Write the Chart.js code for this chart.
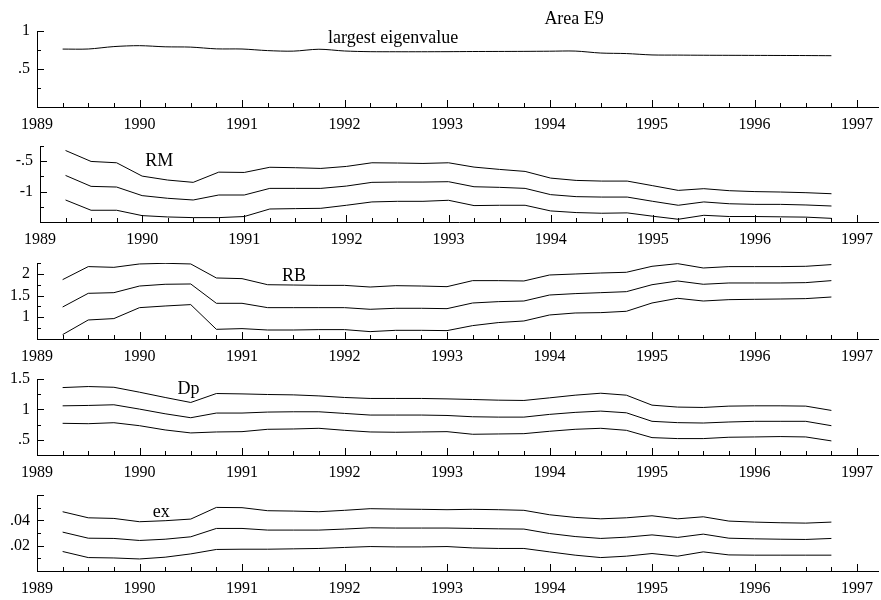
<!DOCTYPE html>
<html>
<head>
<meta charset="utf-8">
<title>Area E9</title>
<script src="https://cdn.jsdelivr.net/npm/chart.js@4.4.1/dist/chart.umd.min.js"></script>
<style>
    html, body {
        margin: 0;
        padding: 0;
        background: #ffffff;
    }

    #board {
        position: relative;
        width: 881px;
        height: 600px;
        overflow: hidden;
    }

    #board canvas {
        position: absolute;
        left: 0;
    }
</style>
</head>
<body>

<div id="board">
    <canvas id="eigenChart" width="881" height="142" style="top:1px"></canvas>
    <canvas id="rmChart" width="881" height="142" style="top:116px"></canvas>
    <canvas id="rbChart" width="881" height="142" style="top:233px"></canvas>
    <canvas id="dpChart" width="881" height="142" style="top:349px"></canvas>
    <canvas id="exChart" width="881" height="142" style="top:465px"></canvas>
</div>

<script>

/*
============================================================
Quarterly dates and year ticks
============================================================
*/

const quarters = [
    1989.25, 1989.5, 1989.75,
    1990, 1990.25, 1990.5, 1990.75,
    1991, 1991.25, 1991.5, 1991.75,
    1992, 1992.25, 1992.5, 1992.75,
    1993, 1993.25, 1993.5, 1993.75,
    1994, 1994.25, 1994.5, 1994.75,
    1995, 1995.25, 1995.5, 1995.75,
    1996, 1996.25, 1996.5, 1996.75
];

const yearTicks = [1989, 1990, 1991, 1992, 1993, 1994, 1995, 1996, 1997];

const quarterTicks = quarters.filter(q => !Number.isInteger(q));

/*
============================================================
Largest eigenvalue
============================================================
*/

const eigenvalue = [
    0.762, 0.763, 0.795,
    0.807, 0.792, 0.788, 0.765,
    0.763, 0.742, 0.735, 0.760,
    0.737, 0.728, 0.727, 0.727,
    0.728, 0.730, 0.731, 0.732,
    0.734, 0.736, 0.710, 0.703,
    0.685, 0.683, 0.681, 0.680,
    0.679, 0.678, 0.677, 0.675
];

/*
============================================================
RM  (upper / estimate / lower)
============================================================
*/

const rmUpper = [
    -0.324, -0.504, -0.526,
    -0.745, -0.810, -0.848, -0.680,
    -0.685, -0.600, -0.607, -0.619,
    -0.586, -0.526, -0.530, -0.537,
    -0.526, -0.597, -0.635, -0.668,
    -0.778, -0.816, -0.827, -0.827,
    -0.903, -0.980, -0.952, -0.985,
    -1.000, -1.007, -1.018, -1.035
];

const rmMid = [
    -0.734, -0.914, -0.925,
    -1.066, -1.110, -1.138, -1.056,
    -1.056, -0.947, -0.947, -0.947,
    -0.909, -0.848, -0.843, -0.843,
    -0.837, -0.920, -0.930, -0.947,
    -1.050, -1.083, -1.090, -1.090,
    -1.160, -1.225, -1.170, -1.200,
    -1.210, -1.210, -1.220, -1.237
];

const rmLower = [
    -1.138, -1.307, -1.307,
    -1.395, -1.417, -1.428, -1.428,
    -1.410, -1.286, -1.280, -1.275,
    -1.225, -1.170, -1.160, -1.160,
    -1.143, -1.230, -1.225, -1.225,
    -1.318, -1.345, -1.356, -1.350,
    -1.405, -1.455, -1.390, -1.410,
    -1.410, -1.415, -1.420, -1.440
];

/*
============================================================
RB
============================================================
*/

const rbUpper = [
    1.867, 2.167, 2.150,
    2.228, 2.243, 2.228, 1.905,
    1.890, 1.750, 1.743, 1.735,
    1.735, 1.697, 1.728, 1.720,
    1.705, 1.844, 1.844, 1.836,
    1.974, 1.997, 2.020, 2.036,
    2.174, 2.235, 2.135, 2.167,
    2.167, 2.167, 2.174, 2.213
];

const rbMid = [
    1.237, 1.552, 1.567,
    1.720, 1.760, 1.767, 1.322,
    1.322, 1.222, 1.222, 1.222,
    1.222, 1.184, 1.207, 1.207,
    1.199, 1.329, 1.360, 1.375,
    1.513, 1.545, 1.567, 1.590,
    1.750, 1.836, 1.760, 1.790,
    1.790, 1.790, 1.798, 1.844
];

const rbLower = [
    0.601, 0.938, 0.970,
    1.222, 1.260, 1.292, 0.723,
    0.739, 0.707, 0.707, 0.716,
    0.716, 0.670, 0.700, 0.700,
    0.693, 0.808, 0.878, 0.915,
    1.053, 1.099, 1.107, 1.138,
    1.329, 1.437, 1.375, 1.406,
    1.414, 1.421, 1.430, 1.467
];

/*
============================================================
Dp
============================================================
*/

const dpUpper = [
    1.359, 1.376, 1.364,
    1.283, 1.196, 1.114, 1.261,
    1.255, 1.245, 1.239, 1.222,
    1.196, 1.180, 1.180, 1.180,
    1.173, 1.163, 1.152, 1.147,
    1.190, 1.234, 1.266, 1.234,
    1.070, 1.038, 1.032, 1.054,
    1.059, 1.059, 1.054, 0.983
];

const dpMid = [
    1.059, 1.065, 1.076,
    1.005, 0.928, 0.863, 0.940,
    0.940, 0.956, 0.961, 0.961,
    0.934, 0.907, 0.907, 0.907,
    0.900, 0.879, 0.873, 0.873,
    0.918, 0.951, 0.972, 0.944,
    0.804, 0.782, 0.776, 0.793,
    0.804, 0.804, 0.804, 0.732
];

const dpLower = [
    0.771, 0.765, 0.781,
    0.732, 0.662, 0.613, 0.629,
    0.634, 0.673, 0.678, 0.689,
    0.656, 0.629, 0.624, 0.629,
    0.634, 0.591, 0.596, 0.601,
    0.640, 0.673, 0.689, 0.656,
    0.536, 0.520, 0.520, 0.542,
    0.547, 0.553, 0.547, 0.482
];

/*
============================================================
ex
============================================================
*/

const exUpper = [
    0.0468, 0.0420, 0.0415,
    0.0389, 0.0397, 0.0410, 0.0502,
    0.0500, 0.0476, 0.0473, 0.0468,
    0.0479, 0.0492, 0.0489, 0.0487,
    0.0484, 0.0487, 0.0484, 0.0479,
    0.0444, 0.0423, 0.0412, 0.0420,
    0.0436, 0.0412, 0.0428, 0.0394,
    0.0386, 0.0381, 0.0378, 0.0386
];

const exMid = [
    0.0307, 0.0259, 0.0257,
    0.0241, 0.0251, 0.0270, 0.0336,
    0.0336, 0.0323, 0.0323, 0.0323,
    0.0331, 0.0341, 0.0339, 0.0339,
    0.0339, 0.0336, 0.0333, 0.0331,
    0.0296, 0.0272, 0.0257, 0.0267,
    0.0285, 0.0265, 0.0291, 0.0259,
    0.0254, 0.0251, 0.0249, 0.0257
];

const exLower = [
    0.0154, 0.0106, 0.0103,
    0.0095, 0.0109, 0.0135, 0.0170,
    0.0172, 0.0172, 0.0175, 0.0178,
    0.0186, 0.0193, 0.0190, 0.0190,
    0.0193, 0.0182, 0.0178, 0.0178,
    0.0151, 0.0125, 0.0106, 0.0117,
    0.0138, 0.0117, 0.0151, 0.0127,
    0.0125, 0.0125, 0.0125, 0.0125
];

/*
============================================================
Y tick values and their labels, per panel
============================================================
*/

const eigenTicks = [0.5, 1];
const eigenTickLabels = [".5", "1"];
const eigenMinor = [0.25, 0.75];

const rmTicks = [-1, -0.5];
const rmTickLabels = ["-1", "-.5"];
const rmMinor = [-1.25, -0.75, -0.25];

const rbTicks = [1, 1.5, 2];
const rbTickLabels = ["1", "1.5", "2"];
const rbMinor = [0.75, 1.25, 1.75, 2.25];

const dpTicks = [0.5, 1, 1.5];
const dpTickLabels = [".5", "1", "1.5"];
const dpMinor = [0.75, 1.25];

const exTicks = [0.02, 0.04, 0.06];
const exTickLabels = [".02", ".04", ""];
const exMinor = [0.01, 0.03, 0.05];

/*
============================================================
Shared styling
============================================================
*/

const SERIF = '"Liberation Serif", "Times New Roman", serif';

const X_MIN = 1989;
const X_MAX = 1997.21;

/*
------------------------------------------------------------
Inward tick marks and text notes, drawn on top of each panel
------------------------------------------------------------
*/

const axisMarks = {

    id: "axisMarks",

    afterDraw(chart, args, opts) {

        const ctx = chart.ctx;
        const area = chart.chartArea;
        const xs = chart.scales.x;
        const ys = chart.scales.y;

        ctx.save();
        ctx.strokeStyle = "#000";
        ctx.lineWidth = 1;
        ctx.beginPath();

        const tickX = (value, len) => {
            const px = Math.round(xs.getPixelForValue(value)) + 0.5;
            ctx.moveTo(px, area.bottom);
            ctx.lineTo(px, area.bottom - len);
        };

        const tickY = (value, len) => {
            const py = Math.round(ys.getPixelForValue(value)) + 0.5;
            ctx.moveTo(area.left, py);
            ctx.lineTo(area.left + len, py);
        };

        yearTicks.forEach(v => tickX(v, 7));
        quarterTicks.forEach(v => tickX(v, 4));

        opts.major.forEach(v => tickY(v, 7));
        opts.minor.forEach(v => tickY(v, 4));

        ctx.stroke();

        ctx.fillStyle = "#000";
        ctx.font = "18px " + SERIF;
        ctx.textAlign = "left";
        ctx.textBaseline = "alphabetic";

        opts.notes.forEach(note => {
            ctx.fillText(
                note.text,
                xs.getPixelForValue(note.x),
                ys.getPixelForValue(note.y)
            );
        });

        ctx.restore();

    }

};

/*
------------------------------------------------------------
One stacked panel
------------------------------------------------------------
*/

function createPanel(canvasId, panel) {

    const canvas = document.getElementById(canvasId);

    if (!canvas) {
        return null;
    }

    const datasets = panel.series.map(values => ({
        data: quarters.map((q, i) => ({ x: q, y: values[i] })),
        borderColor: "#000",
        borderWidth: 1,
        pointRadius: 0,
        tension: panel.tension || 0,
        fill: false
    }));

    return new Chart(canvas, {

        type: "line",

        data: { datasets },

        options: {

            responsive: false,
            animation: false,

            layout: {
                padding: { top: 30, left: 0, right: 0, bottom: 0 }
            },

            scales: {

                x: {
                    type: "linear",
                    min: X_MIN,
                    max: X_MAX,
                    grid: { display: false, drawTicks: false },
                    border: { display: true, color: "#000", width: 1 },
                    afterBuildTicks: scale => {
                        scale.ticks = yearTicks.map(v => ({ value: v }));
                    },
                    afterFit: scale => {
                        scale.height = 36;
                    },
                    ticks: {
                        autoSkip: false,
                        maxRotation: 0,
                        padding: 8,
                        color: "#000",
                        font: { family: SERIF, size: 16 },
                        callback: value => String(value)
                    }
                },

                y: {
                    type: "linear",
                    min: panel.min,
                    max: panel.max,
                    grid: { display: false, drawTicks: false },
                    border: { display: true, color: "#000", width: 1 },
                    afterBuildTicks: scale => {
                        scale.ticks = panel.ticks.map(v => ({ value: v }));
                    },
                    afterFit: scale => {
                        scale.width = panel.left;
                    },
                    ticks: {
                        padding: 7,
                        color: "#000",
                        font: { family: SERIF, size: 16 },
                        callback: (value, index) => panel.tickLabels[index]
                    }
                }

            },

            plugins: {
                legend: { display: false },
                tooltip: { enabled: false },
                axisMarks: {
                    major: panel.ticks,
                    minor: panel.minor,
                    notes: panel.notes
                }
            }

        },

        plugins: [axisMarks]

    });

}

/*
============================================================
Build the five panels
============================================================
*/

createPanel("eigenChart", {
    series: [eigenvalue],
    tension: 0.3,
    min: 0,
    max: 1,
    left: 37,
    ticks: eigenTicks,
    tickLabels: eigenTickLabels,
    minor: eigenMinor,
    notes: [
        { text: "largest eigenvalue", x: 1991.84, y: 0.843 },
        { text: "Area E9", x: 1993.95, y: 1.097 }
    ]
});

createPanel("rmChart", {
    series: [rmUpper, rmMid, rmLower],
    min: -1.5,
    max: -0.25,
    left: 40,
    ticks: rmTicks,
    tickLabels: rmTickLabels,
    minor: rmMinor,
    notes: [{ text: "RM", x: 1990.03, y: -0.581 }]
});

createPanel("rbChart", {
    series: [rbUpper, rbMid, rbLower],
    min: 0.5,
    max: 2.25,
    left: 37,
    ticks: rbTicks,
    tickLabels: rbTickLabels,
    minor: rbMinor,
    notes: [{ text: "RB", x: 1991.39, y: 1.836 }]
});

createPanel("dpChart", {
    series: [dpUpper, dpMid, dpLower],
    min: 0.25,
    max: 1.5,
    left: 37,
    ticks: dpTicks,
    tickLabels: dpTickLabels,
    minor: dpMinor,
    notes: [{ text: "Dp", x: 1990.37, y: 1.261 }]
});

createPanel("exChart", {
    series: [exUpper, exMid, exLower],
    min: 0,
    max: 0.06,
    left: 37,
    ticks: exTicks,
    tickLabels: exTickLabels,
    minor: exMinor,
    notes: [{ text: "ex", x: 1990.13, y: 0.0423 }]
});

</script>
</body>
</html>
